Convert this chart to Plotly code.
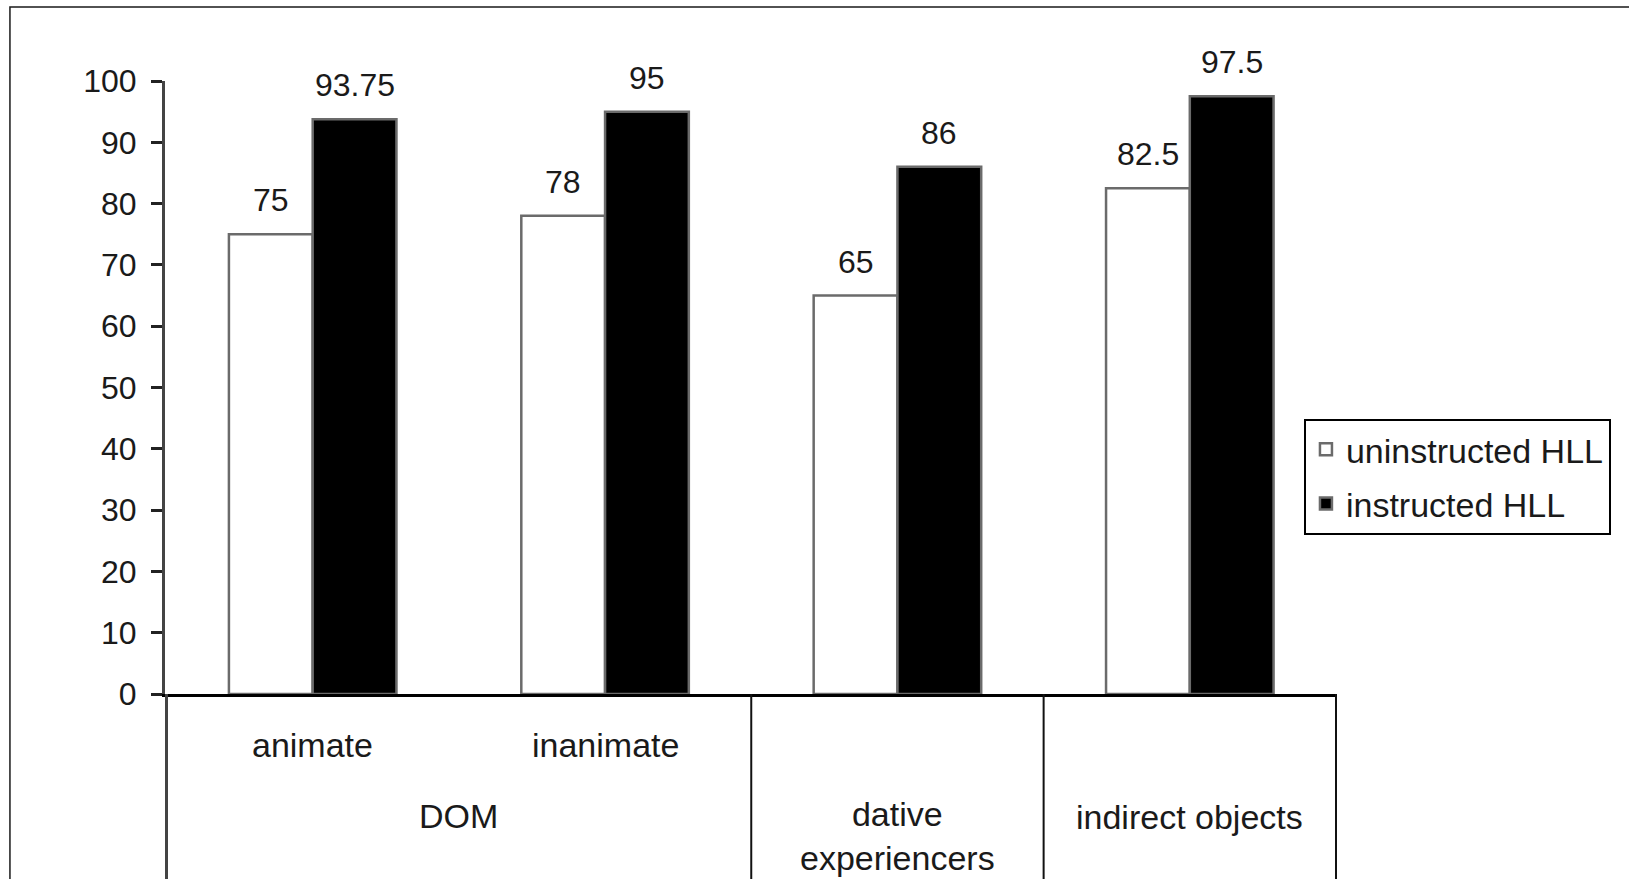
import plotly.graph_objects as go

# Data
categories = ["animate", "inanimate", "dative experiencers", "indirect objects"]
uninstructed = [75, 78, 65, 82.5]
instructed = [93.75, 95, 86, 97.5]
series_names = ["uninstructed HLL", "instructed HLL"]
y_ticks = [0, 10, 20, 30, 40, 50, 60, 70, 80, 90, 100]

# Lower category rows: (label, category position, pixel offset below the axis)
sub_labels = [("animate", 0, 51), ("inanimate", 1, 51)]
group_labels = [("DOM", 0.5, 122), ("dative<br>experiencers", 2, 142), ("indirect objects", 3, 123)]
dividers = [1.5, 2.5, 3.5]

FONT = "Liberation Sans, Arial, sans-serif"
TEXT = "#1a1a1a"
EDGE = "#6b6b6b"
BARGAP = 0.427
FS_TICK = 32
FS_VALUE = 32
FS_CAT = 34
FS_LEGEND = 34

fig = go.Figure()
fig.add_bar(x=categories, y=uninstructed, name=series_names[0], legendgroup="u",
            marker=dict(color="white", line=dict(color=EDGE, width=2.5)))
fig.add_bar(x=categories, y=instructed, name=series_names[1], legendgroup="i",
            marker=dict(color="black", line=dict(color=EDGE, width=2.5)))

# value labels above each bar
offset = (1 - BARGAP) / 4
for si, vals in enumerate([uninstructed, instructed]):
    shift = -offset if si == 0 else offset
    for i, v in enumerate(vals):
        fig.add_annotation(x=i + shift, y=v, xref="x", yref="y", text=f"{v:g}",
                           showarrow=False, yshift=34, yanchor="middle",
                           font=dict(family=FONT, size=FS_VALUE, color=TEXT))

# category table under the axis
for text, pos, dy in sub_labels + group_labels:
    fig.add_annotation(x=pos, y=0, xref="x", yref="paper", text=text, showarrow=False,
                       yanchor="middle", yshift=-dy, align="center",
                       font=dict(family=FONT, size=FS_CAT, color=TEXT))

fig.add_shape(type="line", xref="x", yref="paper", x0=-0.5, x1=-0.5, y0=0, y1=-0.4,
              line=dict(color="#444444", width=3))
for d in dividers:
    fig.add_shape(type="line", xref="x", yref="paper", x0=d, x1=d, y0=0, y1=-0.4,
                  line=dict(color="#111111", width=2))

# outer frame
fig.add_shape(type="rect", xref="paper", yref="paper", x0=-0.1323, x1=1.5, y0=-0.5, y1=1.1207,
              line=dict(color="#1a1a1a", width=1.5), fillcolor="rgba(0,0,0,0)", layer="below")

fig.update_layout(
    width=1629, height=879,
    margin=dict(l=165, r=292, t=81, b=185, pad=0),
    paper_bgcolor="white", plot_bgcolor="white",
    barmode="group", bargap=BARGAP, bargroupgap=0,
    font=dict(family=FONT, size=FS_TICK, color=TEXT),
    showlegend=True,
    legend=dict(x=0.9718, xanchor="left", y=0.449, yanchor="top",
                bordercolor="black", borderwidth=2, bgcolor="white",
                font=dict(family=FONT, size=FS_LEGEND, color=TEXT),
                traceorder="grouped", tracegroupgap=7),
    xaxis=dict(showline=True, linecolor="black", linewidth=2.5, showticklabels=False,
               ticks="", showgrid=False, zeroline=False),
    yaxis=dict(range=[0, 100], tickvals=y_ticks, showline=True, linecolor="#444444", linewidth=3,
               ticks="outside", ticklen=11, tickwidth=2.5, tickcolor="#222222",
               showgrid=False, zeroline=False, ticklabelstandoff=8,
               tickfont=dict(family=FONT, size=FS_TICK, color=TEXT)),
)

fig.write_html("out.html")
